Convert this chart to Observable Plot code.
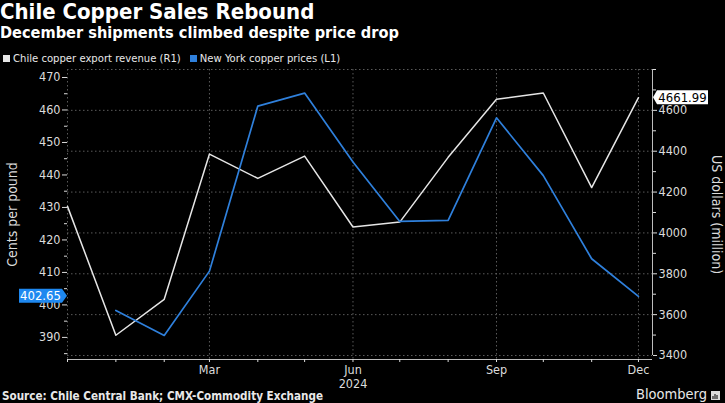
<!DOCTYPE html>
<html>
<head>
<meta charset="utf-8">
<script src="https://cdn.jsdelivr.net/npm/d3@7"></script>
<script src="https://cdn.jsdelivr.net/npm/@observablehq/plot@0.6"></script>
<style>
  html, body { margin: 0; padding: 0; background: #000; }
  #wrap { position: relative; width: 725px; height: 403px; overflow: hidden; background: #000; color: #fff;
          font-family: "DejaVu Sans Condensed", "DejaVu Sans", sans-serif; }
  .abs { position: absolute; white-space: nowrap; line-height: 1; }
  #title { left: 0; top: 0px; font-size: 22px; font-weight: bold; line-height: 1.1; }
  #subtitle { left: 0; top: 24.6px; font-size: 16.2px; font-weight: bold; }
  #legend { left: 3px; top: 53px; font-size: 11.2px; color: #e8e8e8; }
  #legend .sw { display: inline-block; width: 7px; height: 7px; margin-right: 3px; vertical-align: 0px; }
  #legend .item { margin-right: 9px; }
  #chart { position: absolute; left: 0; top: 64px; }
  #source { left: 2px; top: 391px; font-size: 11.6px; font-weight: bold; color: #e8e8e8; }
  #brand { left: 636px; top: 387px; font-size: 14.5px; color: #e8e8e8; }
</style>
</head>
<body>
<div id="wrap">
  <div id="title" class="abs">Chile Copper Sales Rebound</div>
  <div id="subtitle" class="abs">December shipments climbed despite price drop</div>
  <div id="legend" class="abs"></div>
  <div id="chart"></div>
  <div id="source" class="abs">Source: Chile Central Bank; CMX-Commodity Exchange</div>
  <div id="brand" class="abs">Bloomberg <svg width="9" height="9" style="vertical-align:-1px"><rect width="9" height="9" fill="#ddd"/><rect x="1.5" y="5" width="1" height="3" fill="#000"/><rect x="3.5" y="3" width="1" height="5" fill="#000"/><rect x="5.5" y="4" width="1" height="4" fill="#000"/></svg></div>
</div>
<script>
// ---- data ----
const months = ["2023-12-01","2024-01-01","2024-02-01","2024-03-01","2024-04-01","2024-05-01","2024-06-01",
                "2024-07-01","2024-08-01","2024-09-01","2024-10-01","2024-11-01","2024-12-01"];
// Chile copper export revenue, US$ million (right axis)
const revenue = [4130, 3499, 3675, 4386, 4267, 4376, 4029, 4053, 4370, 4654, 4685, 4222, 4661.99];
// New York copper prices, cents per pound (left axis), Jan–Dec 2024
const priceMonths = months.slice(1);
const prices = [398.3, 390.6, 410.4, 461.2, 465.2, 444.0, 425.7, 426.0, 457.6, 439.8, 414.2, 402.65];

const seriesNames = ["Chile copper export revenue (R1)", "New York copper prices (L1)"];
const seriesColors = ["#e6e6e6", "#2f80dc"];

const leftTicks = [390, 400, 410, 420, 430, 440, 450, 460, 470];
const leftMinor = [385, 395, 405, 415, 425, 435, 445, 455, 465];
const rightTicks = [3400, 3600, 3800, 4000, 4200, 4400, 4600];
const rightGrid = [3400, 3600, 3800, 4000, 4200, 4400, 4600, 4800];
const rightMinor = [3500, 3700, 3900, 4100, 4300, 4500, 4700, 4800];
const quarterLabels = {"2024-03": "Mar", "2024-06": "Jun\n2024", "2024-09": "Sep", "2024-12": "Dec"};

// ---- scales ----
const leftDomain = [383.2, 472.46];
const rightDomain = [3380.4, 4800];
const toLeft = r => leftDomain[0] + (r - rightDomain[0]) * (leftDomain[1] - leftDomain[0]) / (rightDomain[1] - rightDomain[0]);
const fromLeft = l => rightDomain[0] + (l - leftDomain[0]) * (rightDomain[1] - rightDomain[0]) / (leftDomain[1] - leftDomain[0]);
const parse = s => new Date(s + "T00:00:00Z");
const xDomain = [parse("2023-12-01"), parse("2024-12-10")];

const revData = months.map((m, i) => ({date: parse(m), value: revenue[i]}));
const priceData = priceMonths.map((m, i) => ({date: parse(m), value: prices[i]}));
const monthDates = months.map(parse);
const gridDates = months.filter((m, i) => i % 3 === 0).map(parse);

// legend
const legend = document.getElementById("legend");
seriesNames.forEach((n, i) => {
  const s = document.createElement("span");
  s.className = "item";
  s.innerHTML = `<span class="sw" style="background:${seriesColors[i]}"></span>${n}`;
  legend.appendChild(s);
});

const FONT = '"DejaVu Sans Condensed", "DejaVu Sans", sans-serif';

function tag(valueFn, text, side, bg, fg) {
  return (index, scales, values, dims) => {
    const y = scales.y(valueFn());
    const g = d3.create("svg:g");
    const h = 7;
    let path, tx;
    if (side === "left") {
      const tip = dims.marginLeft, r = tip - 5, l = r - 43;
      path = `M${tip},${y} L${r},${y - h} L${l},${y - h} L${l},${y + h} L${r},${y + h} Z`;
      tx = (l + r) / 2;
    } else {
      const tip = dims.width - dims.marginRight + 1, l = tip + 4, r = l + 51;
      path = `M${tip},${y} L${l},${y - h} L${r},${y - h} L${r},${y + h} L${l},${y + h} Z`;
      tx = (l + r) / 2;
    }
    g.append("path").attr("d", path).attr("fill", bg);
    g.append("text").attr("x", tx).attr("y", y).attr("dy", "0.36em")
      .attr("text-anchor", "middle").attr("fill", fg)
      .attr("font-size", 13).attr("font-family", FONT).text(text);
    return g.node();
  };
}

const chart = Plot.plot({
  width: 725,
  height: 327,
  marginTop: 5,
  marginBottom: 32,
  marginLeft: 67,
  marginRight: 73,
  style: {background: "#000", color: "#dcdcdc", fontFamily: FONT, fontSize: "12.5px", overflow: "visible"},
  x: {type: "utc", domain: xDomain},
  y: {domain: leftDomain},
  marks: [
    Plot.ruleY(rightGrid.map(toLeft), {stroke: "#5a5a5a", strokeDasharray: "1.5,2.5"}),
    Plot.ruleX(gridDates, {stroke: "#5a5a5a", strokeDasharray: "1.5,2.5"}),
    Plot.ruleY([leftDomain[0]], {stroke: "#bdbdbd"}),
    Plot.ruleX([xDomain[1]], {y1: toLeft(3400), y2: leftDomain[1], stroke: "#bdbdbd"}),
    Plot.axisY(leftTicks, {anchor: "left", tickSize: 5, tickPadding: 2, label: null, fontSize: 12.5}),
    Plot.axisY(leftMinor, {anchor: "left", tickSize: 3, tickFormat: () => "", label: null}),
    Plot.axisY(rightTicks.map(toLeft), {anchor: "right", tickSize: 4, tickPadding: 2, label: null, fontSize: 12.5,
      tickFormat: v => String(Math.round(fromLeft(v)))}),
    Plot.axisY(rightMinor.map(toLeft), {anchor: "right", tickSize: 3, tickFormat: () => "", label: null}),
    Plot.axisX(monthDates, {anchor: "bottom", tickSize: 3, tickPadding: 1, label: null, fontSize: 12.5, lineHeight: 1.15,
      tickFormat: d => quarterLabels[d.toISOString().slice(0, 7)] || ""}),
    Plot.text(["Cents per pound"], {frameAnchor: "left", dx: -55, rotate: -90, textAnchor: "middle", fontSize: 14, fill: "#dcdcdc"}),
    Plot.text(["US dollars (million)"], {frameAnchor: "right", dx: 64, rotate: 90, textAnchor: "middle", fontSize: 14, fill: "#dcdcdc"}),
    Plot.line(revData, {x: "date", y: d => toLeft(d.value), stroke: seriesColors[0], strokeWidth: 1.5}),
    Plot.line(priceData, {x: "date", y: "value", stroke: seriesColors[1], strokeWidth: 1.7}),
    tag(() => prices[prices.length - 1], "402.65", "left", "#1e88f0", "#fff"),
    tag(() => toLeft(revenue[revenue.length - 1]), "4661.99", "right", "#fff", "#000")
  ]
});
document.getElementById("chart").appendChild(chart);
</script>
</body>
</html>
